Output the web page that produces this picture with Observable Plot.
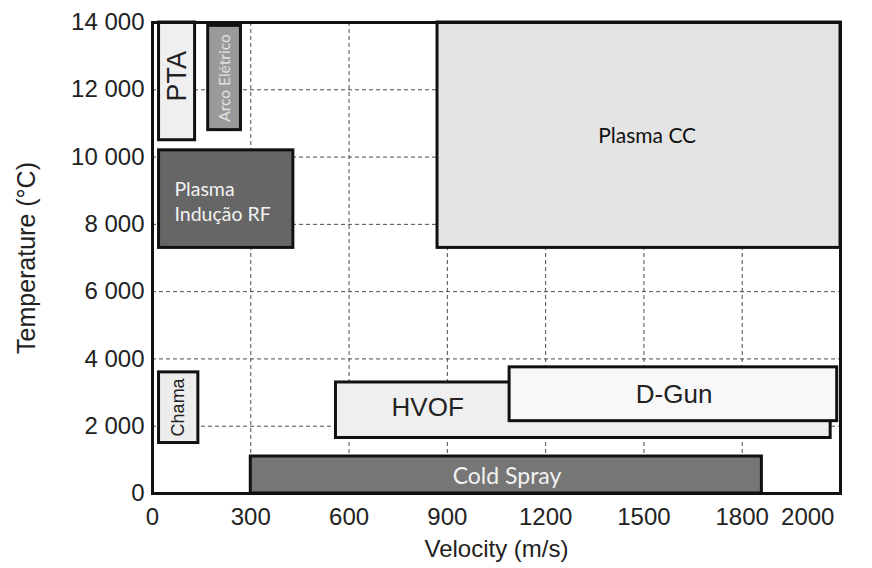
<!DOCTYPE html>
<html>
<head>
<meta charset="utf-8">
<script src="https://cdn.jsdelivr.net/npm/d3@7"></script>
<script src="https://cdn.jsdelivr.net/npm/@observablehq/plot@0.6"></script>
<style>
  html, body { margin: 0; padding: 0; background: #fff; }
  #chart svg { display: block; }
</style>
</head>
<body>
<div id="chart"></div>
<script>
// Processes (drawing order)
const processes = ["Plasma CC", "PTA", "Arco Elétrico", "Plasma\nIndução RF", "Chama", "HVOF", "D-Gun", "Cold Spray"];
const velMin   = [870, 20, 170, 20, 20, 560, 1090, 300];
const velMax   = [2100, 130, 270, 430, 140, 2070, 2090, 1860];
const tempMin  = [7300, 10500, 10800, 7300, 1500, 1650, 2150, 0];
const tempMax  = [14000, 14000, 13900, 10200, 3600, 3300, 3750, 1100];
const fills    = ["#e4e4e4", "#efefef", "#9a9a9a", "#666666", "#ededed", "#efefef", "#f8f8f8", "#767676"];
// Label anchor positions (in data units)
const labelVel  = [1510, 75, 220, 67, 80, 840, 1592, 1082];
const labelTemp = [10630, 12400, 12350, 8720, 2560, 2560, 2950, 506];

const xTicks = [0, 300, 600, 900, 1200, 1500, 1800, 2000];
const xGrid = [300, 600, 900, 1200, 1500, 1800];
const yTicks = [0, 2000, 4000, 6000, 8000, 10000, 12000, 14000];
const yGrid = [2000, 4000, 6000, 8000, 10000, 12000];

const boxes = processes.map((p, i) => ({
  name: p, x1: velMin[i], x2: velMax[i], y1: tempMin[i], y2: tempMax[i], fill: fills[i],
  lx: labelVel[i], ly: labelTemp[i]
}));
const pick = names => boxes.filter(b => names.includes(b.name));

const sans = "'Liberation Sans', Arial, Helvetica, sans-serif";
const hum = "Lato, 'Open Sans', sans-serif";

const chart = Plot.plot({
  width: 872,
  height: 568,
  marginLeft: 152,
  marginRight: 32,
  marginTop: 22,
  marginBottom: 75,
  style: { fontFamily: sans, fontSize: "24px", color: "#222", background: "#fff" },
  x: { domain: [0, 2100] },
  y: { domain: [0, 14000] },
  marks: [
    Plot.ruleX(xGrid, { stroke: "#4a4a4a", strokeDasharray: "4,3", strokeWidth: 1 }),
    Plot.ruleY(yGrid, { stroke: "#4a4a4a", strokeDasharray: "4,3", strokeWidth: 1 }),
    Plot.rect(boxes, { x1: "x1", x2: "x2", y1: "y1", y2: "y2", fill: d => d.fill, stroke: "#111", strokeWidth: 3 }),
    // horizontal labels, Arial-like
    Plot.text(pick(["HVOF", "D-Gun"]), { x: "lx", y: "ly", text: "name", fontFamily: sans, fontSize: 26, fill: "#222" }),
    // vertical labels
    Plot.text(pick(["PTA"]), { x: "lx", y: "ly", text: "name", rotate: -90, fontFamily: sans, fontSize: 27, fill: "#222" }),
    Plot.text(pick(["Chama"]), { x: "lx", y: "ly", text: "name", rotate: -90, fontFamily: sans, fontSize: 18, fill: "#222" }),
    Plot.text(pick(["Arco Elétrico"]), { x: "lx", y: "ly", text: "name", rotate: -90, fontFamily: hum, fontSize: 15.5, fill: "#e2e2e2" }),
    // humanist labels
    Plot.text(pick(["Plasma CC"]), { x: "lx", y: "ly", text: "name", fontFamily: hum, fontSize: 21, fill: "#111" }),
    Plot.text(pick(["Plasma\nIndução RF"]), { x: "lx", y: "ly", text: "name", textAnchor: "start", lineHeight: 1.3, fontFamily: hum, fontSize: 19.5, fill: "#f2f2f2" }),
    Plot.text(pick(["Cold Spray"]), { x: "lx", y: "ly", text: "name", fontFamily: hum, fontSize: 23, fill: "#f2f2f2" }),
    Plot.frame({ stroke: "#111", strokeWidth: 3 }),
    // axes
    Plot.axisX({ ticks: xTicks, tickSize: 0, tickPadding: 14, tickFormat: d => String(d), label: null,
                 fontSize: 24, fontFamily: sans, fill: "#222" }),
    Plot.axisY({ ticks: yTicks, tickSize: 0, tickPadding: 8, label: null,
                 tickFormat: d => d === 0 ? "0" : d3.format(",")(d).replace(",", " "),
                 fontSize: 24, fontFamily: sans, fill: "#222" }),
    // axis titles
    Plot.text(["Velocity (m/s)"], { frameAnchor: "bottom", lineAnchor: "middle", textAnchor: "middle", dy: 56, text: d => d, fontFamily: sans, fontSize: 24, fill: "#222" }),
    Plot.text(["Temperature (°C)"], { frameAnchor: "left", textAnchor: "middle", lineAnchor: "middle", dx: -126, rotate: -90, text: d => d, fontFamily: sans, fontSize: 25, fill: "#222" })
  ]
});
document.getElementById("chart").appendChild(chart);
</script>
</body>
</html>
